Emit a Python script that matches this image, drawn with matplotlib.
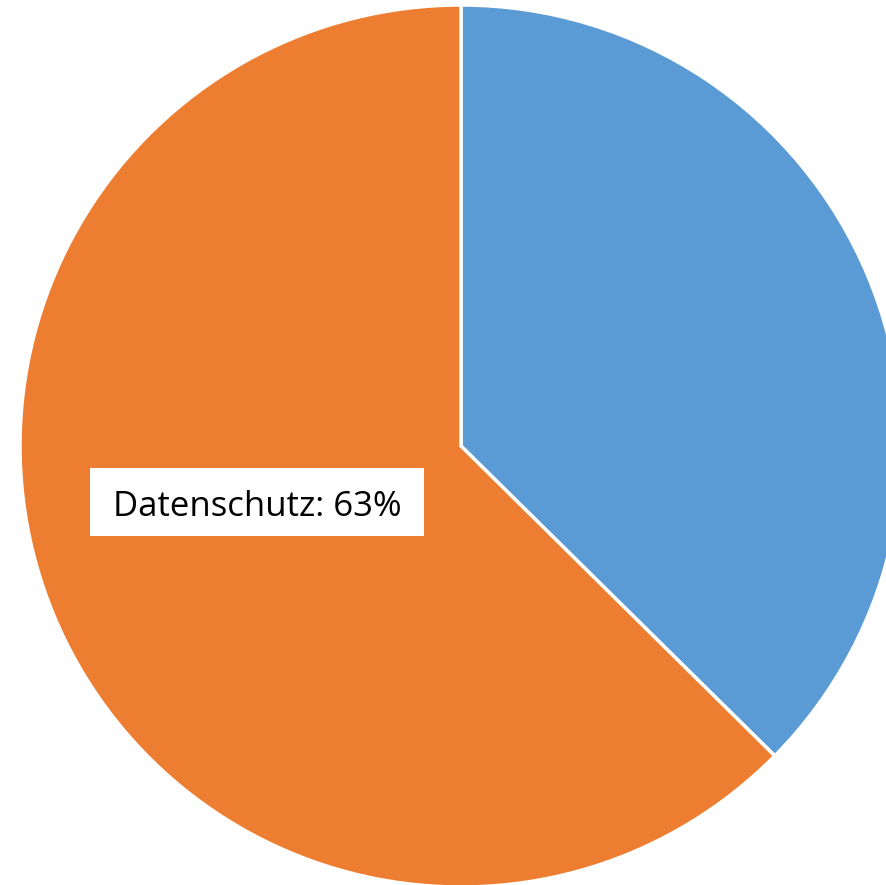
import matplotlib
matplotlib.use("Agg")
import matplotlib.pyplot as plt
from matplotlib.patches import Rectangle

categories = ["Sonstiges", "Datenschutz"]
values = [37.4, 62.6]
colors = ["#5B9BD5", "#ED7D31"]

W, H = 887, 885
fig = plt.figure(figsize=(W / 100, H / 100), dpi=100)
ax = fig.add_axes([0, 0, 1, 1])

cx, cy, r = 461, H - 446, 441
wedges, _ = ax.pie(values, colors=colors, startangle=90, counterclock=False,
                   center=(cx, cy), radius=r, frame=True,
                   wedgeprops=dict(edgecolor="white", linewidth=2.5))
ax.set_xlim(0, W)
ax.set_ylim(0, H)
ax.set_aspect("equal")
ax.axis("off")

label = f"{categories[1]}: {round(values[1])}%"
fs = 25
px = fs * 100 / 72
tx, ty = cx - 204, cy - 70
t = ax.text(tx, ty, label, ha="center", va="baseline",
            fontsize=fs, family="Open Sans", color="black", zorder=5)
fig.canvas.draw()
ext = t.get_window_extent()
padx = 0.65 * px
box = Rectangle((ext.x0 - padx, ty - 0.58 * px), ext.width + 2 * padx, 1.96 * px,
                facecolor="white", edgecolor="none", zorder=4)
ax.add_patch(box)

fig.savefig("out.png", dpi=100)
